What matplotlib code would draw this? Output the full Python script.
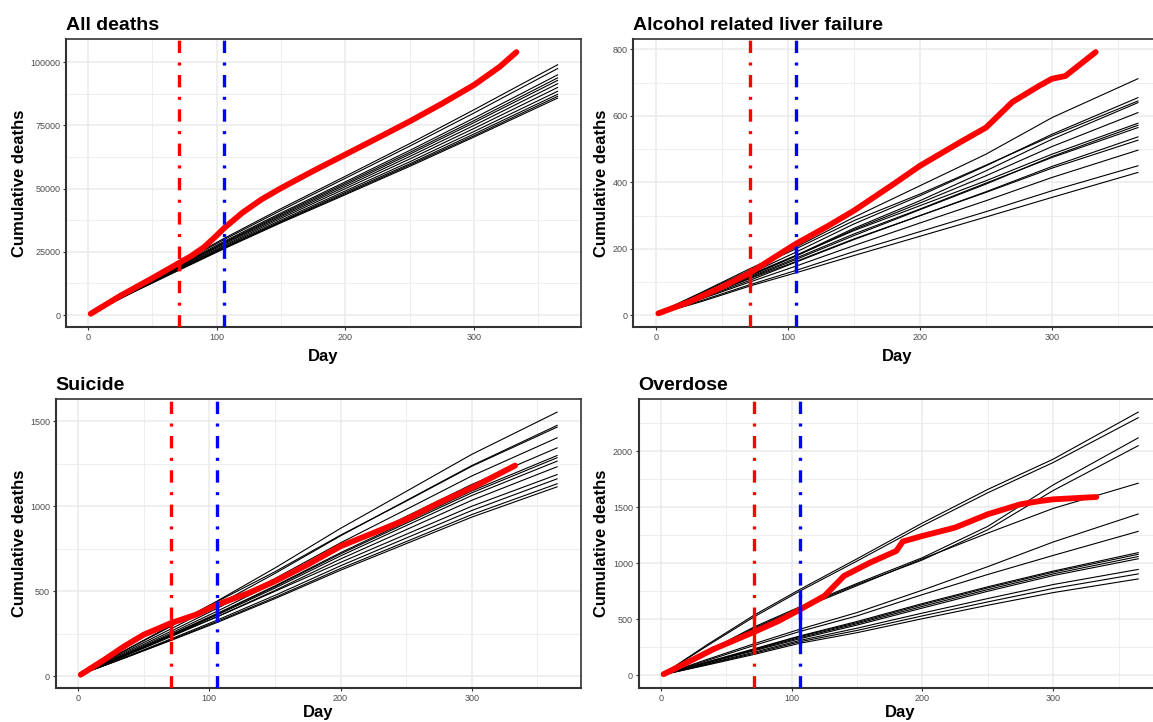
import matplotlib
matplotlib.use("Agg")
import matplotlib.pyplot as plt
from matplotlib.ticker import MultipleLocator, StrMethodFormatter
from matplotlib.transforms import blended_transform_factory

plt.rcParams["font.family"] = ["Liberation Sans", "DejaVu Sans"]
plt.rcParams["lines.scale_dashes"] = False

# ── DATA ───────────────────────────────────────────────────────
# cumulative deaths by day of year; black = earlier years, red = 2020

DAYS = [1, 35, 71, 106, 150, 200, 250, 300, 365]
FIRST_LINE_DAY = 71     # red dot-dash line
SECOND_LINE_DAY = 106   # blue dot-dash line

ALL_HIST = [
    [300, 10400, 20600, 30400, 42100, 54900, 67800, 81200, 99000],
    [290, 10200, 20300, 29900, 41400, 54100, 66800, 79900, 97500],
    [285, 10000, 19800, 29200, 40400, 52700, 65100, 77900, 95000],
    [280, 9850, 19500, 28800, 39900, 52100, 64300, 76900, 93800],
    [280, 9750, 19300, 28500, 39400, 51500, 63600, 76100, 92800],
    [275, 9600, 19000, 28100, 38900, 50800, 62700, 75000, 91500],
    [270, 9450, 18700, 27600, 38300, 50000, 61700, 73800, 90000],
    [265, 9300, 18400, 27200, 37600, 49100, 60600, 72600, 88500],
    [260, 9150, 18200, 26800, 37100, 48500, 59800, 71600, 87300],
    [260, 9100, 18000, 26600, 36800, 48000, 59300, 70900, 86500],
    [255, 9000, 17800, 26300, 36500, 47600, 58800, 70400, 85800],
]
ALL_2020_DAYS = [2, 25, 50, 71, 80, 90, 100, 106, 120, 135, 150, 175, 200, 225,
                 250, 275, 300, 320, 333]
ALL_2020 = [500, 7600, 14600, 20700, 23300, 26800, 31500, 34500, 40500, 45800,
            50200, 57000, 63500, 70000, 76600, 83600, 91000, 98200, 104000]

LIVER_HIST = [
    [6, 70, 140, 205, 295, 390, 485, 595, 712],
    [5, 62, 125, 190, 275, 360, 450, 545, 655],
    [6, 68, 135, 200, 285, 365, 452, 540, 645],
    [5, 60, 120, 180, 262, 345, 435, 530, 640],
    [4, 58, 118, 178, 258, 338, 420, 508, 610],
    [5, 62, 122, 180, 255, 330, 405, 485, 578],
    [4, 55, 112, 168, 240, 318, 395, 478, 572],
    [6, 58, 115, 172, 245, 320, 398, 475, 565],
    [4, 52, 105, 160, 228, 300, 372, 448, 537],
    [5, 55, 110, 162, 230, 300, 370, 443, 527],
    [4, 50, 100, 148, 210, 278, 345, 415, 497],
    [3, 45, 92, 135, 192, 252, 312, 375, 450],
    [3, 42, 88, 128, 180, 238, 296, 355, 430],
]
LIVER_2020_DAYS = [2, 25, 50, 71, 90, 106, 130, 150, 180, 200, 230, 250, 270, 290, 300, 310, 333]
LIVER_2020 = [6, 40, 85, 127, 175, 215, 268, 315, 395, 450, 520, 565, 642, 690, 712, 720, 792]

SUICIDE_HIST = [
    [12, 148, 295, 443, 637, 870, 1087, 1305, 1553],
    [12, 140, 280, 420, 605, 826, 1033, 1239, 1475],
    [12, 150, 300, 440, 615, 830, 1030, 1235, 1465],
    [11, 133, 266, 400, 575, 785, 981, 1178, 1402],
    [11, 128, 255, 383, 551, 752, 940, 1128, 1343],
    [10, 123, 247, 370, 532, 727, 909, 1090, 1298],
    [10, 122, 244, 366, 527, 720, 900, 1079, 1285],
    [10, 120, 240, 361, 519, 708, 886, 1063, 1265],
    [10, 117, 234, 351, 505, 690, 862, 1035, 1232],
    [9, 120, 240, 350, 500, 670, 835, 1000, 1186],
    [9, 110, 221, 331, 476, 650, 813, 975, 1161],
    [9, 108, 215, 323, 464, 634, 792, 951, 1132],
    [9, 106, 212, 317, 457, 624, 780, 936, 1114],
]
SUICIDE_2020_DAYS = [2, 20, 35, 50, 71, 90, 106, 130, 150, 175, 200, 225, 250, 275, 300, 333]
SUICIDE_2020 = [10, 98, 176, 245, 314, 363, 422, 490, 559, 657, 765, 843, 922, 1020, 1108, 1239]

OVERDOSE_HIST = [
    [5, 270, 535, 765, 1040, 1360, 1660, 1930, 2350],
    [5, 260, 520, 750, 1020, 1335, 1630, 1900, 2300],
    [5, 210, 430, 610, 820, 1050, 1330, 1700, 2120],
    [5, 205, 420, 600, 810, 1030, 1300, 1650, 2050],
    [4, 200, 410, 590, 800, 1040, 1270, 1490, 1715],
    [3, 140, 280, 410, 560, 760, 970, 1190, 1440],
    [3, 130, 265, 390, 530, 720, 900, 1070, 1285],
    [3, 118, 235, 350, 480, 640, 790, 930, 1095],
    [3, 115, 230, 345, 470, 630, 780, 920, 1080],
    [3, 112, 225, 335, 460, 615, 765, 905, 1060],
    [3, 108, 218, 325, 448, 600, 750, 890, 1040],
    [3, 100, 205, 310, 420, 555, 685, 810, 945],
    [3, 95, 195, 298, 400, 530, 655, 775, 905],
    [3, 90, 185, 285, 380, 505, 625, 738, 860],
]
OVERDOSE_2020_DAYS = [2, 20, 40, 55, 71, 90, 106, 125, 140, 160, 180, 185, 200, 225,
                      250, 275, 290, 300, 333]
OVERDOSE_2020 = [9, 113, 232, 306, 385, 485, 585, 708, 887, 1006, 1110, 1195, 1244,
                 1319, 1438, 1527, 1556, 1571, 1592]

TITLES = ["All deaths", "Alcohol related liver failure", "Suicide", "Overdose"]
Y_STEPS = [25000, 200, 500, 500]

# ── LAYOUT (pixels: left, top, right, bottom) ──────────────────

W, H = 1153, 722
BOXES = [(66, 39, 581, 327.5), (633, 39, 1162, 327.5),
         (55.5, 399, 581, 688), (638.5, 399, 1162, 688)]
YLABEL_X = [20, 602, 20, 602]
XLABEL_PAD = [5, 5, 2, 2]   # bottom row kept inside the canvas
DASH = (8.9, 6.8, 2.2, 6.8)

panels = [
    (ALL_HIST, ALL_2020_DAYS, ALL_2020),
    (LIVER_HIST, LIVER_2020_DAYS, LIVER_2020),
    (SUICIDE_HIST, SUICIDE_2020_DAYS, SUICIDE_2020),
    (OVERDOSE_HIST, OVERDOSE_2020_DAYS, OVERDOSE_2020),
]

fig = plt.figure(figsize=(W / 100, H / 100), dpi=100)
fig.patch.set_facecolor("white")

for i, (hist, red_days, red_vals) in enumerate(panels):
    l, t, r, b = BOXES[i]
    ax = fig.add_axes([l / W, 1 - b / H, (r - l) / W, (b - t) / H])

    for row in hist:
        ax.plot(DAYS, row, color="black", linewidth=0.8, zorder=2)

    ax.plot(red_days, red_vals, color="#FF0000", linewidth=4.2,
            solid_capstyle="round", solid_joinstyle="round", zorder=3)

    for day, col in [(FIRST_LINE_DAY, "#FF0000"), (SECOND_LINE_DAY, "#0000FF")]:
        ax.axvline(day, color=col, linewidth=2.4, dashes=DASH,
                   dash_capstyle="butt", zorder=4)
        k = DAYS.index(day)
        col_vals = [row[k] for row in hist]
        ax.vlines(day, min(col_vals), max(col_vals), color=col,
                  linewidth=2.4, zorder=4)

    ax.xaxis.set_major_locator(MultipleLocator(100))
    ax.xaxis.set_minor_locator(MultipleLocator(50))
    ax.yaxis.set_major_locator(MultipleLocator(Y_STEPS[i]))
    ax.yaxis.set_minor_locator(MultipleLocator(Y_STEPS[i] / 2))
    ax.yaxis.set_major_formatter(StrMethodFormatter("{x:.0f}"))

    ax.grid(which="major", color="#EBEBEB", linewidth=1.1)
    ax.grid(which="minor", color="#EBEBEB", linewidth=0.6)
    ax.set_axisbelow(True)

    ax.tick_params(which="major", length=2.5, width=0.8, color="#333333",
                   labelsize=6.5, labelcolor="#4D4D4D", pad=1.5)
    ax.tick_params(which="minor", length=0)
    for side in ["top", "right", "left", "bottom"]:
        ax.spines[side].set_color("#333333")
        ax.spines[side].set_linewidth(1.2)
    ax.spines["left"].set_linewidth(1.5)
    ax.spines["bottom"].set_linewidth(1.5)

    ax.set_title(TITLES[i], loc="left", fontsize=14, fontweight="bold", pad=6.5)
    ax.set_xlabel("Day", fontsize=12, fontweight="bold", labelpad=XLABEL_PAD[i])
    ax.set_ylabel("Cumulative deaths", fontsize=12, fontweight="bold", va="center")
    ax.yaxis.set_label_coords(YLABEL_X[i] / W, 0.5,
                              transform=blended_transform_factory(fig.transFigure, ax.transAxes))

fig.savefig("out.png", dpi=100, facecolor="white")
